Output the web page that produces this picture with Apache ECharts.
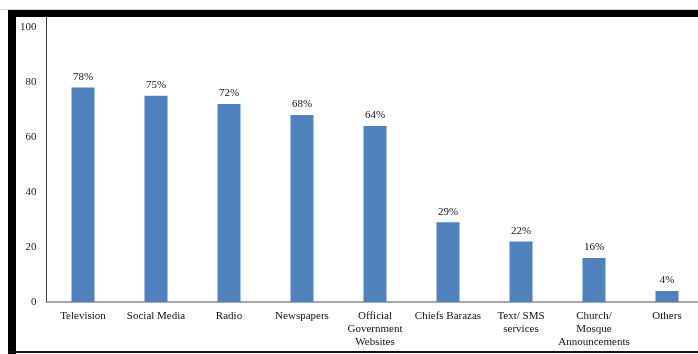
<!DOCTYPE html>
<html>
<head>
<meta charset="utf-8">
<script src="https://cdn.jsdelivr.net/npm/echarts@6/dist/echarts.min.js"></script>
<style>
  html, body { margin: 0; padding: 0; background: #ffffff; }
  #chart { width: 698px; height: 354px; }
</style>
</head>
<body>
<div id="chart"></div>
<script>
// Information sources and the share of respondents using each
const categories = [
  'Television',
  'Social Media',
  'Radio',
  'Newspapers',
  'Official\nGovernment\nWebsites',
  'Chiefs Barazas',
  'Text/ SMS\nservices',
  'Church/\nMosque\nAnnouncements',
  'Others'
];
const shares = [78, 75, 72, 68, 64, 29, 22, 16, 4];
const yTicks = [0, 20, 40, 60, 80, 100];

const FONT = '"Liberation Serif", "Times New Roman", serif';
const chart = echarts.init(document.getElementById('chart'));

chart.setOption({
  animation: false,
  backgroundColor: '#ffffff',
  // plot area runs past the right edge of the canvas
  grid: { left: 46.5, width: 657, top: 17, bottom: 52, outerBoundsMode: 'none' },
  xAxis: {
    type: 'category',
    data: categories,
    axisLine: { lineStyle: { color: '#8a8a8a', width: 1.5 } },
    axisTick: { show: false },
    axisLabel: {
      interval: 0,
      color: '#111111',
      fontFamily: FONT,
      fontSize: 11,
      lineHeight: 13,
      margin: 8
    }
  },
  yAxis: {
    type: 'value',
    min: 0,
    // axis line runs up to the frame, slightly beyond 100
    max: 100 * 285 / 275,
    interval: 20,
    splitLine: { show: false },
    axisTick: { show: false },
    axisLine: { show: true, lineStyle: { color: '#404040', width: 1 } },
    axisLabel: {
      color: '#222222',
      fontFamily: FONT,
      fontSize: 11,
      margin: 10,
      formatter: v => (yTicks.includes(Math.round(v * 1000) / 1000) ? String(v) : '')
    }
  },
  series: [{
    type: 'bar',
    data: shares,
    barWidth: 23,
    itemStyle: { color: '#4f81bd' },
    label: {
      show: true,
      position: 'top',
      distance: 5,
      color: '#111111',
      fontFamily: FONT,
      fontSize: 11,
      formatter: p => p.value + '%'
    }
  }],
  graphic: [
    // outer frame: heavy top and left rules, thin bottom rule
    { type: 'rect', shape: { x: 0, y: 9, width: 698, height: 1 }, style: { fill: '#d8d8d8' }, z: 100 },
    { type: 'rect', shape: { x: 8, y: 10, width: 690, height: 7 }, style: { fill: '#000000' }, z: 100 },
    { type: 'rect', shape: { x: 8, y: 10, width: 8, height: 344 }, style: { fill: '#000000' }, z: 100 },
    { type: 'rect', shape: { x: 8, y: 351, width: 690, height: 2 }, style: { fill: '#111111' }, z: 100 }
  ]
});
</script>
</body>
</html>
